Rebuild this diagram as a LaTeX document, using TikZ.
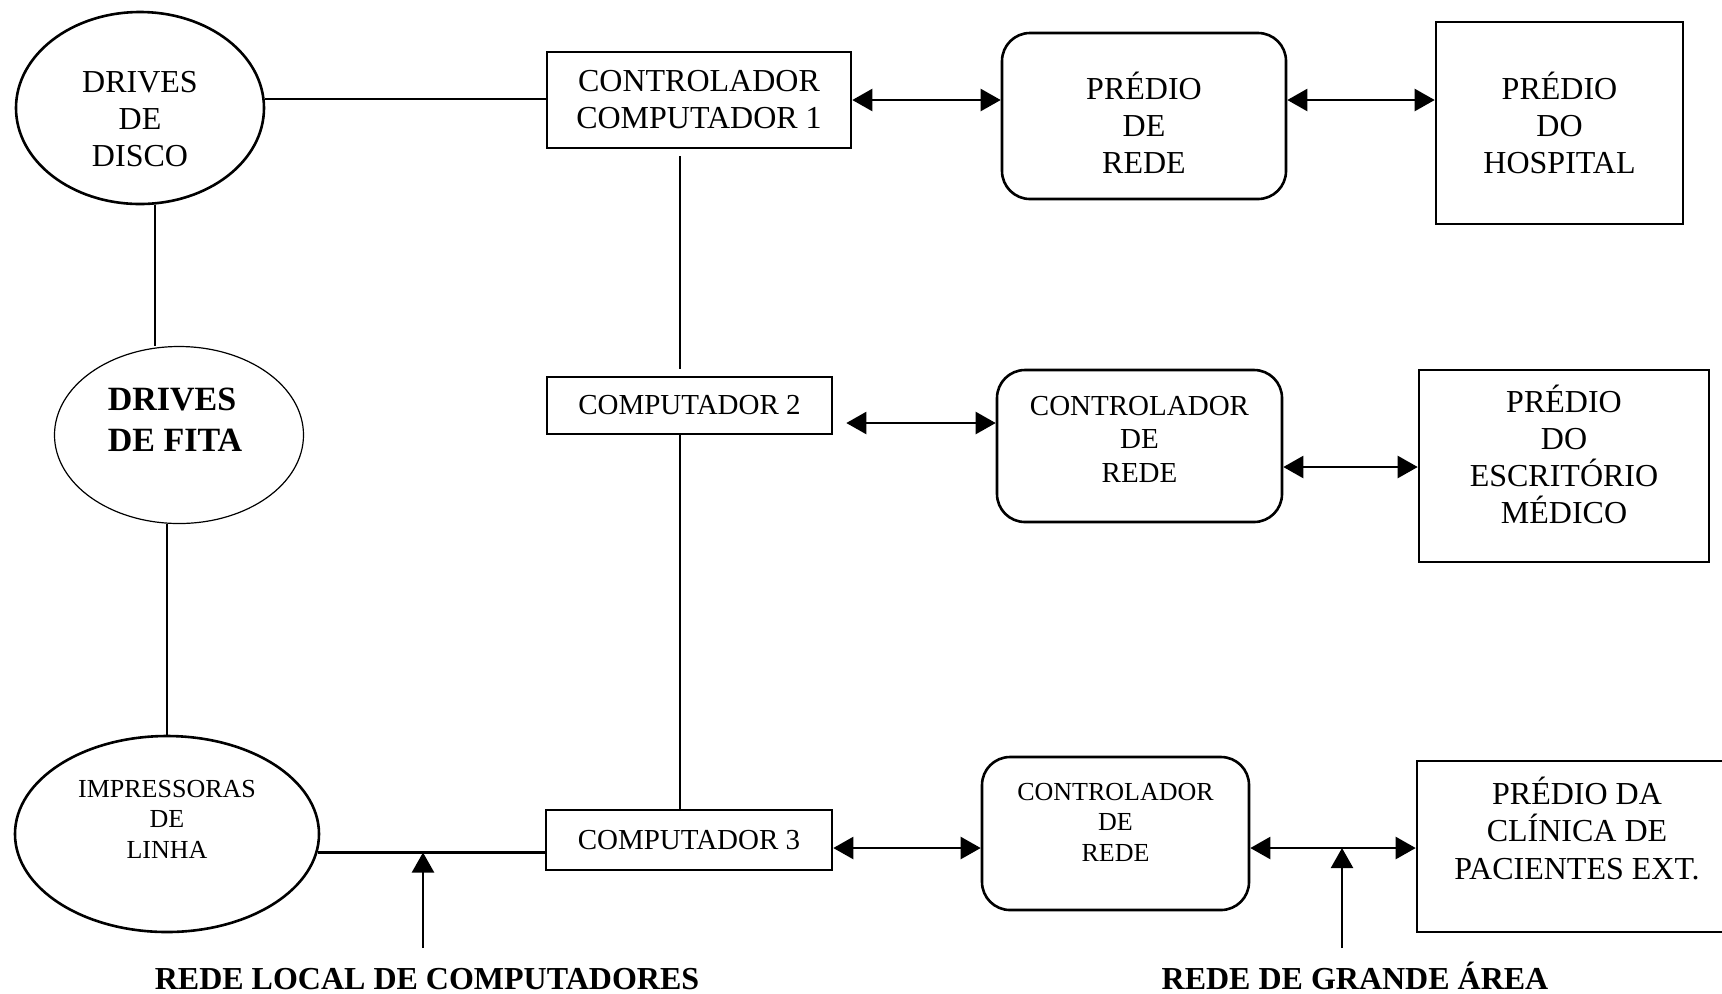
\documentclass[tikz,border=0pt]{standalone}
\usepackage{fontspec}
\setmainfont{Liberation Serif}
\usetikzlibrary{shapes,arrows.meta}

\begin{document}
\begin{tikzpicture}
  [x=0.5pt,y=-0.5pt,
   bigF/.style={font=\fontsize{16}{18.5}\selectfont},
   midF/.style={font=\fontsize{14.5}{16.75}\selectfont},
   smallF/.style={font=\fontsize{13}{15.25}\selectfont},
   boxN/.style={draw,rectangle,line width=1.3pt,inner sep=0pt,align=center,bigF},
   netN/.style={boxN,rounded corners=14pt},
   ellN/.style={draw,ellipse,line width=1.3pt,inner sep=0pt},
   txt/.style={align=center,inner sep=0pt,bigF},
   lnk/.style={line width=1.15pt},
   thinlnk/.style={line width=0.6pt},
   dbl/.style={lnk,{Triangle[length=10pt,width=11pt]}-{Triangle[length=10pt,width=11pt]}},
   upArr/.style={lnk,-{Triangle[length=10pt,width=11pt]}},
  ]
 \useasboundingbox (0,0) rectangle (1722,993);

 % storage and printers
 \node[ellN,minimum width=124pt,minimum height=96pt,
       label={[txt,yshift=-5.75pt]center:DRIVES\\DE\\DISCO}] (disco) at (140,108) {};
 \node[ellN,line width=0.6pt,minimum width=124.5pt,minimum height=88.5pt,
       label={[txt,align=left,xshift=-2pt,yshift=7.5pt,font=\bfseries\fontsize{17}{20.5}\selectfont]center:DRIVES\\DE FITA}] (fita) at (179,435) {};
 \node[ellN,minimum width=152pt,minimum height=98pt,
       label={[txt,smallF,yshift=7.5pt]center:IMPRESSORAS\\DE\\LINHA}] (impr) at (167,834) {};

 % computers
 \node[boxN,minimum width=152pt,minimum height=48pt]          (ctrl1) at (699,100)   {CONTROLADOR\\COMPUTADOR 1};
 \node[boxN,midF,minimum width=142.5pt,minimum height=28.5pt] (comp2) at (689.5,405.5) {COMPUTADOR 2};
 \node[boxN,midF,minimum width=143pt,minimum height=30pt]     (comp3) at (689,840)   {COMPUTADOR 3};

 % network side
 \node[netN,minimum width=142pt,minimum height=83pt,
       label={[txt,yshift=-3.5pt]center:PRÉDIO\\DE\\REDE}] (rede1) at (1144,116) {};
 \node[boxN,minimum width=123.5pt,minimum height=101pt] (hosp) at (1559.5,123) {PRÉDIO\\DO\\HOSPITAL};
 \node[netN,minimum width=142.5pt,minimum height=76pt,
       label={[txt,midF,yshift=3.5pt]center:CONTROLADOR\\DE\\REDE}] (rede2) at (1139.5,446) {};
 \node[boxN,minimum width=145pt,minimum height=96pt,
       label={[txt,yshift=5.75pt]center:PRÉDIO\\DO\\ESCRITÓRIO\\MÉDICO}] (escr) at (1564,466) {};
 \node[netN,minimum width=133.5pt,minimum height=76.5pt,
       label={[txt,smallF,yshift=5.75pt]center:CONTROLADOR\\DE\\REDE}] (rede3) at (1115.5,833.5) {};
 \node[boxN,minimum width=153.5pt,minimum height=85.5pt,
       label={[txt,font=\fontsize{16}{18.75}\selectfont,xshift=3.25pt,yshift=9.25pt]center:PRÉDIO DA\\CLÍNICA DE\\PACIENTES EXT.}] (clin) at (1570.5,846.5) {};

 \node[txt,font=\bfseries\fontsize{16}{18.5}\selectfont,anchor=base] (lan) at (427,989)  {REDE LOCAL DE COMPUTADORES};
 \node[txt,font=\bfseries\fontsize{16}{18.5}\selectfont,anchor=base] (wan) at (1355,989) {REDE DE GRANDE ÁREA};

 \coordinate (spine)   at (680,0);
 \coordinate (lanfoot) at (423,948);
 \coordinate (wanfoot) at (1342,948);
 \coordinate (wanrow)  at ([yshift=-4pt]comp3.east);

 % local links
 \draw[lnk]     (disco.4)    -- (disco.4 -| ctrl1.west);
 \draw[lnk]     (disco.-81)  -- (disco.-81 |- fita.north);
 \draw[thinlnk] (impr.north) -- (impr.north |- fita.south);
 \draw[lnk]     (impr.-7)    -- (impr.-7 -| comp3.west);
 \draw[lnk,shorten <=3.5pt,shorten >=3.5pt] (spine |- ctrl1.south) -- (spine |- comp2.north);
 \draw[lnk]     (spine |- comp2.south) -- (spine |- comp3.north);

 % wide area links
 \draw[dbl] (ctrl1.east) -- (ctrl1.east -| rede1.west);
 \draw[dbl] (ctrl1.east -| rede1.east) -- (ctrl1.east -| hosp.west);
 \draw[dbl,shorten <=6.5pt] ([yshift=-8.75pt]comp2.east) -- ([yshift=-8.75pt]comp2.east -| rede2.west);
 \draw[dbl] ([yshift=-10.5pt]rede2.east) -- ([yshift=-10.5pt]rede2.east -| escr.west);
 \draw[dbl] (wanrow) -- (wanrow -| rede3.west);
 \draw[dbl] (wanrow -| rede3.east) -- (wanrow -| clin.west);

 \draw[upArr] (lanfoot) -- (lanfoot |- impr.-7);
 \draw[upArr] (wanfoot) -- (wanfoot |- wanrow);

\end{tikzpicture}
\end{document}
